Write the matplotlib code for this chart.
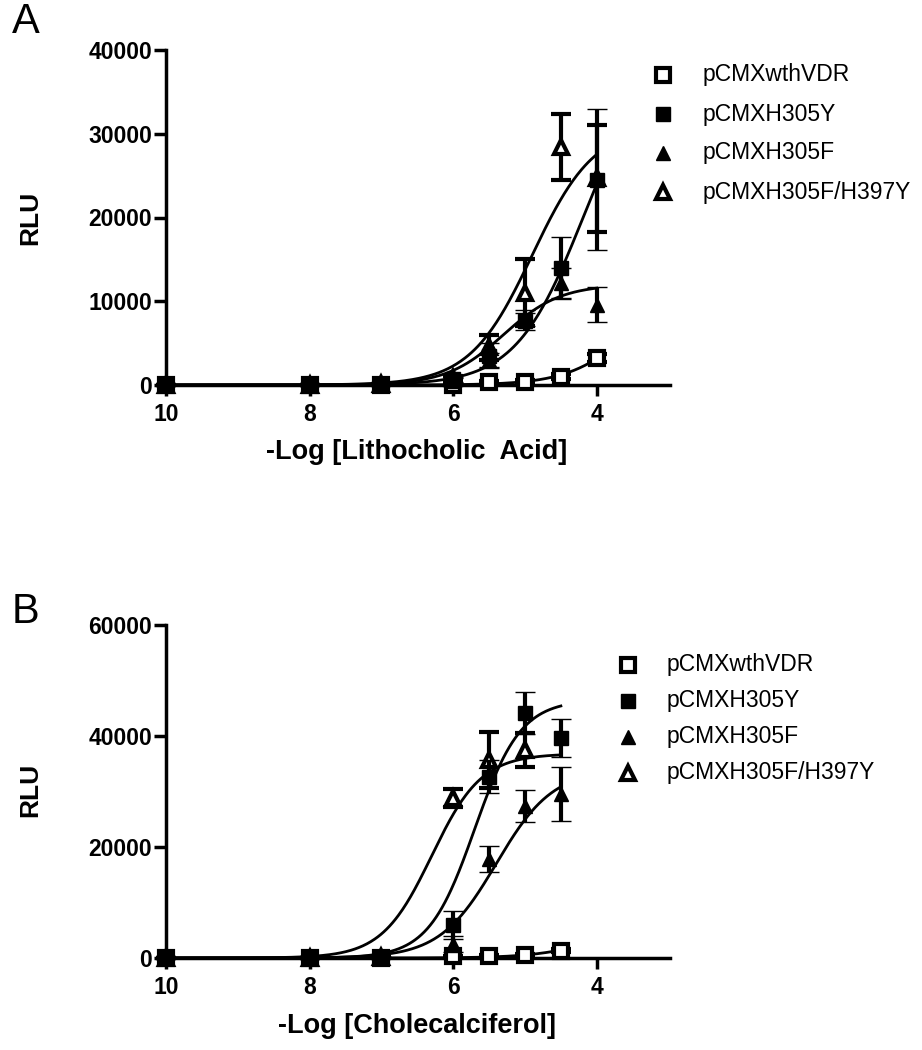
import matplotlib.pyplot as plt
import numpy as np

plt.rcParams['font.family'] = ['Liberation Sans', 'DejaVu Sans']

# series names, same order in both panels
labels = ['pCMXwthVDR', 'pCMXH305Y', 'pCMXH305F', 'pCMXH305F/H397Y']

# panel A : lithocholic acid
conc_a = [10, 8, 7, 6, 5.5, 5, 4.5, 4]
wt_a = [0, 0, 0, 0, 300, 400, 1000, 3200]
wt_a_err = [0, 0, 0, 0, 150, 150, 300, 500]
y305_a = [0, 0, 100, 700, 3500, 7600, 14000, 24500]
y305_a_err = [0, 0, 0, 300, 1500, 1000, 3700, 8400]
f305_a = [0, 0, 100, 500, 3000, 8000, 12200, 9600]
f305_a_err = [0, 0, 0, 300, 800, 900, 1800, 2100]
f397_a = [0, 0, 100, 800, 4500, 11000, 28400, 24700]
f397_a_err = [0, 0, 0, 300, 1500, 4000, 3900, 6400]
# fitted sigmoid (top, -log EC50, hill) for each series
top_a = [12000, 40000, 12000, 31000]
mid_a = [3.55, 4.19, 5.3, 4.9]
hill_a = [1.0, 0.92, 1.1, 1.0]

# panel B : cholecalciferol
conc_b = [10, 8, 7, 6, 5.5, 5, 4.5]
wt_b = [0, 0, 0, 300, 400, 600, 1300]
wt_b_err = [0, 0, 0, 100, 150, 150, 300]
y305_b = [0, 0, 200, 5900, 32700, 44200, 39600]
y305_b_err = [0, 0, 0, 2500, 3000, 3800, 3400]
f305_b = [0, 0, 200, 2500, 17800, 27400, 29500]
f305_b_err = [0, 0, 0, 1500, 2300, 2900, 4900]
f397_b = [0, 0, 200, 28800, 35700, 37500, np.nan]
f397_b_err = [0, 0, 0, 1600, 5000, 3000, np.nan]
top_b = [6000, 46500, 34000, 36800]
mid_b = [4.0, 5.7, 5.4, 6.3]
hill_b = [1.0, 1.35, 1.1, 1.25]

styles = [
    dict(marker='s', ms=10.5, mfc='white', mec='black', mew=3),
    dict(marker='s', ms=10.5, mfc='black', mec='black', mew=1),
    dict(marker='^', ms=10.5, mfc='black', mec='black', mew=1),
    dict(marker='^', ms=10.5, mfc='white', mec='black', mew=3),
]
# filled squares end up on top
draw_order = [0, 3, 2, 1]


def sigmoid(x, top, mid, hill):
    return top / (1 + 10 ** ((x - mid) * hill))


def draw_panel(ax, conc, vals, errs, tops, mids, hills, ymax, ystep):
    xs = np.linspace(10, min(conc), 400)
    for i in range(4):
        ax.plot(xs, sigmoid(xs, tops[i], mids[i], hills[i]), color='black',
                lw=2.0, zorder=3, clip_on=False)
    for k, i in enumerate(draw_order):
        ax.errorbar(conc, vals[i], yerr=errs[i], linestyle='none', color='black',
                    elinewidth=3, capsize=7.5, capthick=3, zorder=4 + k,
                    clip_on=False, **styles[i])
    ax.set_xlim(10, 2.98)
    ax.set_ylim(0, ymax)
    ax.set_xticks([10, 8, 6, 4])
    ax.set_yticks(np.arange(0, ymax + 1, ystep))
    for s in ['top', 'right']:
        ax.spines[s].set_visible(False)
    for s in ['left', 'bottom']:
        ax.spines[s].set_linewidth(2.5)
    ax.tick_params(axis='x', direction='out', length=8, width=2.5, labelsize=16.5, pad=5)
    ax.tick_params(axis='y', direction='out', length=9, width=2.5, labelsize=16.5, pad=1)
    for t in ax.get_xticklabels() + ax.get_yticklabels():
        t.set_fontweight('bold')


fig = plt.figure(figsize=(9.22, 10.5), dpi=100)
ax_a = fig.add_axes([166 / 922, 1 - 385 / 1050, 504 / 922, 335 / 1050])
ax_b = fig.add_axes([166 / 922, 1 - 958 / 1050, 504 / 922, 333 / 1050])

draw_panel(ax_a, conc_a, [wt_a, y305_a, f305_a, f397_a],
           [wt_a_err, y305_a_err, f305_a_err, f397_a_err],
           top_a, mid_a, hill_a, 40000, 10000)
draw_panel(ax_b, conc_b, [wt_b, y305_b, f305_b, f397_b],
           [wt_b_err, y305_b_err, f305_b_err, f397_b_err],
           top_b, mid_b, hill_b, 60000, 20000)

# overlay in pixel coordinates for panel letters, labels and legends
ov = fig.add_axes([0, 0, 1, 1], facecolor='none')
ov.set_xlim(0, 922)
ov.set_ylim(1050, 0)
ov.axis('off')

ov.text(12, 22, 'A', fontsize=30, ha='left', va='center')
ov.text(12, 612, 'B', fontsize=30, ha='left', va='center')
ov.text(30, 218, 'RLU', fontsize=19, fontweight='bold', rotation=90, ha='center', va='center')
ov.text(30, 790, 'RLU', fontsize=19, fontweight='bold', rotation=90, ha='center', va='center')
ov.text(417, 452, '-Log [Lithocholic  Acid]', fontsize=19.5, fontweight='bold', ha='center', va='center')
ov.text(417, 1026, '-Log [Cholecalciferol]', fontsize=19.5, fontweight='bold', ha='center', va='center')

for i in range(4):
    ya = 75 + i * 39
    ov.plot([663], [ya], linestyle='none', **styles[i])
    ov.text(703, ya, labels[i], fontsize=16.5, ha='left', va='center')
    yb = 665 + i * 36
    ov.plot([628], [yb], linestyle='none', **styles[i])
    ov.text(667, yb, labels[i], fontsize=16.5, ha='left', va='center')

fig.savefig('out.png', dpi=100)
